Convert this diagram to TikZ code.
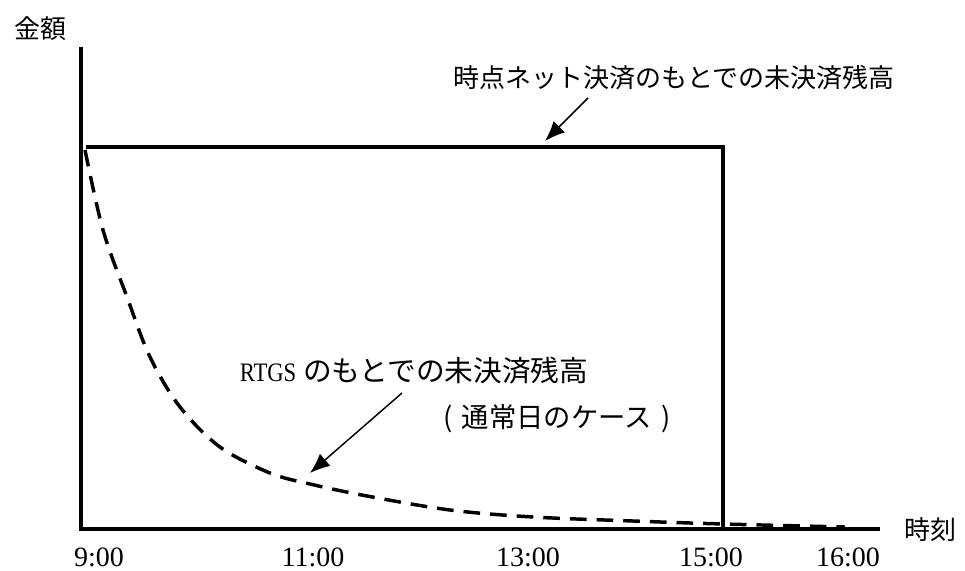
\documentclass[tikz,border=0pt]{standalone}
\usepackage{fontspec}
\setmainfont{Liberation Serif}
\newfontfamily\jpfont{Noto Sans CJK JP}
\usetikzlibrary{arrows.meta}
\begin{document}
\begin{tikzpicture}[x=0.75pt,y=-0.75pt,
  axisline/.style={line width=3.3pt},
  boxline/.style={line width=3pt},
  curveline/.style={line width=2.6pt,dash pattern=on 12.5pt off 7.5pt},
  pointer/.style={line width=1.1pt,-{Latex[length=15pt,width=12pt]}},
  jptext/.style={font=\jpfont\fontsize{19.5}{23}\selectfont,inner sep=0pt},
  numtext/.style={font=\fontsize{21}{24}\selectfont,inner sep=0pt}]
\useasboundingbox (0,0) rectangle (965,571);
% coordinates
\coordinate (O) at (81,529);
\coordinate (ytop) at (81,47);
\coordinate (xend) at (880,529);
\coordinate (rtl) at (86,147);
\coordinate (rtr) at (723,147);
\coordinate (rbr) at (723,529);
% dashed RTGS curve
\draw[curveline] plot[smooth,tension=0.55] coordinates {
  (85,150) (103,230) (127,297) (150,357) (180,407) (220,447) (270,473)
  (310,484) (367,496) (450,510) (533,517) (633,521) (723,524) (845,527)};
% rectangle (net settlement)
\draw[boxline] (rtl) -- (rtr) -- (rbr);
% axes
\draw[axisline] (ytop) -- (O) -- (xend);
% labels
\node[jptext] (ylab) at (40,29) {金額};
\node[jptext] (xlab) at (930,530) {時刻};
\node[jptext] (netlab) at (674,78) {時点ネット決済のもとでの未決済残高};
\node[inner sep=0pt,font=\fontsize{20}{24}\selectfont] (rtgslab) at (414,371)
  {\scalebox{0.85}[1]{RTGS} {\jpfont\fontsize{21.5}{25}\selectfont のもとでの未決済残高}};
\node[inner sep=0pt,font=\jpfont\fontsize{20.5}{24}\selectfont] (caselab) at (557,419)
  {\makebox[1.05em][c]{(}通常日のケース\makebox[1.05em][c]{)}};
\node[numtext] (t9) at (99,557) {9:00};
\node[numtext] (t11) at (313,557) {11:00};
\node[numtext] (t13) at (528,557) {13:00};
\node[numtext] (t15) at (711,557) {15:00};
\node[numtext] (t16) at (848,557) {16:00};
% pointer arrows
\coordinate (a1s) at (588,98);
\coordinate (a1e) at (545,141);
\coordinate (a2s) at (402,393);
\coordinate (a2e) at (310,473);
\draw[pointer] (a1s) -- (a1e);
\draw[pointer] (a2s) -- (a2e);
\end{tikzpicture}
\end{document}
